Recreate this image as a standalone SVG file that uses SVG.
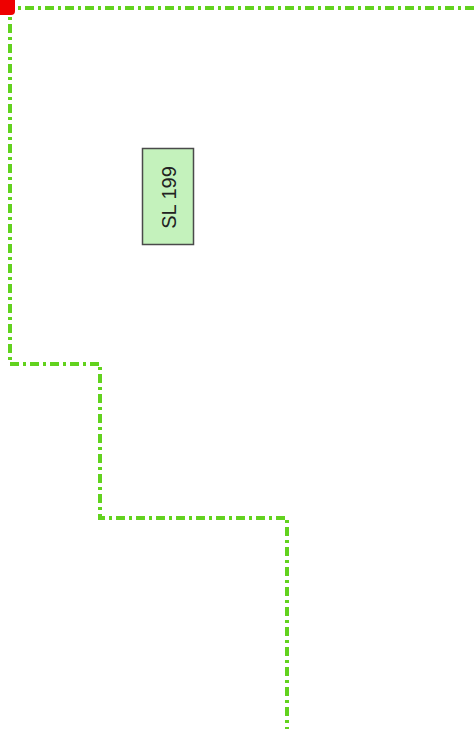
<svg xmlns="http://www.w3.org/2000/svg" width="474" height="729" viewBox="0 0 474 729">
<style>
.bd{fill:none;stroke:#62d21e;stroke-width:4;stroke-dasharray:9 4 3 4}
.lbl{fill:#c4f2bc;stroke:#4a4a4a;stroke-width:1.5}
.t{font-family:"Liberation Sans",Arial,sans-serif;font-size:20px;fill:#222}
</style>
<rect width="474" height="729" fill="#ffffff"/>
<g id="connectors">
<path class="bd" d="M474,8 H10 V364 H100 V518 H287 V729"/>
</g>
<g id="corner">
<rect x="-6" y="-6" width="21" height="21" rx="4" fill="#ee0000"/>
</g>
<g id="sl199">
<rect class="lbl" x="142.5" y="148.5" width="51" height="96"/>
<text class="t" transform="translate(175.5,197.5) rotate(-90)" text-anchor="middle">SL 199</text>
</g>
</svg>
